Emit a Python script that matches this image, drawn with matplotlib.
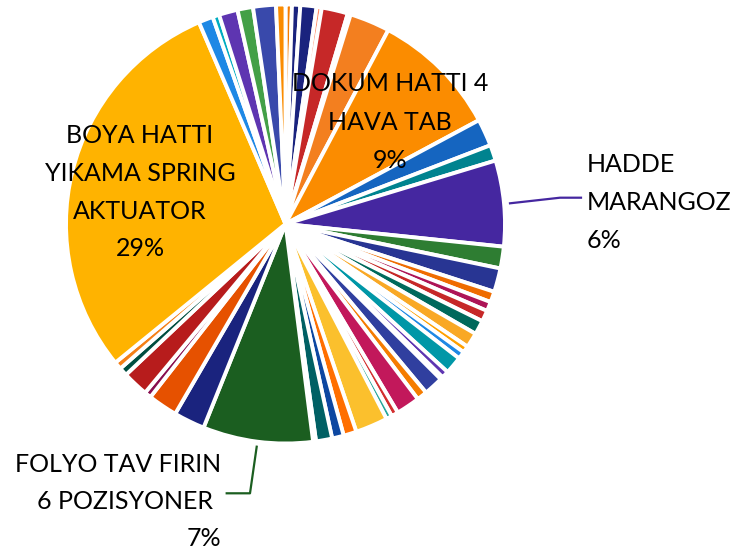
import matplotlib.pyplot as plt
from matplotlib.lines import Line2D

plt.rcParams['font.family'] = ['Lato', 'DejaVu Sans']

# slices clockwise from 12 o'clock, values in percent
values = [0.47, 0.61, 1.19, 0.38, 1.93, 0.22, 2.96, 9.40, 2.00, 1.17,
          6.32, 1.60, 1.75, 0.79, 0.69, 0.82, 1.04, 1.10, 0.49, 0.56,
          1.29, 0.53, 0.19, 1.44, 0.76, 1.75, 0.51, 0.43, 2.38, 0.96,
          0.86, 1.19, 0.21, 8.10, 2.29, 2.17, 0.50, 1.90, 0.61, 0.56,
          29.43, 1.07, 0.49, 1.38, 1.14, 1.68, 0.69]
colors = ['#F57C00', '#1A237E', '#1A237E', '#FF8A65', '#C62828', '#B2DFDB', '#F37F1F', '#FB8C00', '#1565C0', '#00838F',
          '#4527A0', '#2E7D32', '#283593', '#EF6C00', '#AD1457', '#C62828', '#00695C', '#F9A825', '#FFA000', '#1E88E5',
          '#0097A7', '#5E35B1', '#E1BEE7', '#303F9F', '#F57C00', '#C2185B', '#D32F2F', '#26A69A', '#FBC02D', '#FF6F00',
          '#0D47A1', '#006064', '#B2EBF2', '#1B5E20', '#1A237E', '#E65100', '#880E4F', '#B71C1C', '#004D40', '#F57F17',
          '#FFB300', '#1E88E5', '#00ACC1', '#5E35B1', '#43A047', '#3949AB', '#FB8C00']

label_lines = [
    ['BOYA HATTI', 'YIKAMA SPRING', 'AKTUATOR', '29%'],
    ['DOKUM HATTI 4', 'HAVA TAB', '9%'],
    ['HADDE', 'MARANGOZ', '6%'],
    ['FOLYO TAV FIRIN', '6 POZISYONER', '7%'],
]

W, H = 736, 557
cx, cy, r = 285.5, 224, 219.5

def fx(x, y):
    return x / W, 1 - y / H

fig = plt.figure(figsize=(W / 100, H / 100), dpi=100)
ax = fig.add_axes([(cx - r) / W, (H - cy - r) / H, 2 * r / W, 2 * r / H])
ax.pie(values, colors=colors, startangle=90, counterclock=False, radius=1,
       wedgeprops=dict(edgecolor='white', linewidth=2.8))
ax.set_xlim(-1, 1)
ax.set_ylim(-1, 1)
ax.axis('off')

# label text: (x, first baseline, line step, alignment)
label_pos = [(140, 143, 37.8, 'center'),
             (390, 91, 38.5, 'center'),
             (587, 171.5, 38.5, 'left'),
             (221, 471.5, 37.2, 'right')]
for lines, (x, y0, step, ha) in zip(label_lines, label_pos):
    for i, s in enumerate(lines):
        xx = x
        if ha == 'right' and s == '6 POZISYONER':
            xx = x - 8
        fig.text(*fx(xx, y0 + i * step), s, ha=ha, va='baseline', fontsize=18, color='black')

# leader lines
for pts, c in [([(510, 203.3), (560, 197.7), (581, 197.7)], '#4527A0'),
               ([(256.7, 446.7), (250, 493.3), (226.7, 493.3)], '#1B5E20')]:
    xs = [fx(*p)[0] for p in pts]
    ys = [fx(*p)[1] for p in pts]
    fig.add_artist(Line2D(xs, ys, color=c, linewidth=1.6, transform=fig.transFigure))

fig.savefig('out.png', dpi=100)
